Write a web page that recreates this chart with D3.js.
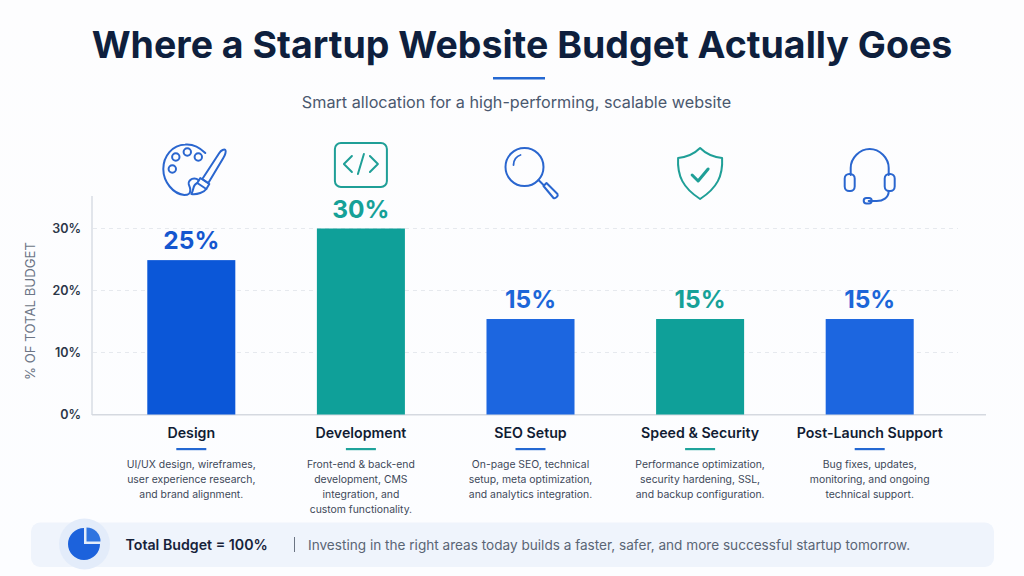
<!DOCTYPE html>
<html><head><meta charset="utf-8">
<script src="https://cdn.jsdelivr.net/npm/d3@7/dist/d3.min.js"></script>
<style>
html,body{margin:0;padding:0;background:#fff;overflow:hidden}
svg{display:block}
text{font-family:Inter,"Noto Sans",sans-serif}
</style></head><body><svg id="c" width="1024" height="576"></svg>
<script>
const categories=["Design","Development","SEO Setup","Speed & Security","Post-Launch Support"];
const values=[24.9,30,15.4,15.4,15.4];
const valueLabels=["25%","30%","15%","15%","15%"];
const barColors=["#0b57d8","#0fa099","#1c66e0","#0fa099","#1c66e0"];
const labelColors=["#1557cf","#16a198","#1c66d8","#16a198","#1c66d8"];
const accentColors=["#2468d2","#1fa39b","#2468d2","#1fa39b","#2468d2"];
const descriptions=[
 ["UI/UX design, wireframes,","user experience research,","and brand alignment."],
 ["Front-end & back-end","development, CMS","integration, and","custom functionality."],
 ["On-page SEO, technical","setup, meta optimization,","and analytics integration."],
 ["Performance optimization,","security hardening, SSL,","and backup configuration."],
 ["Bug fixes, updates,","monitoring, and ongoing","technical support."]];
const yTicks=[0,10,20,30];
const titleText="Where a Startup Website Budget Actually Goes";
const subtitleText="Smart allocation for a high-performing, scalable website";
const axisTitle="% OF TOTAL BUDGET";
const totalText="Total Budget = 100%";
const footerText="Investing in the right areas today builds a faster, safer, and more successful startup tomorrow.";

const svg=d3.select("#c");
const defs=svg.append("defs");
const bg=defs.append("linearGradient").attr("id","bg").attr("x1",0).attr("y1",0).attr("x2",0).attr("y2",1);
bg.append("stop").attr("offset",0).attr("stop-color","#fdfdfe");
bg.append("stop").attr("offset",1).attr("stop-color","#fcfdff");
svg.append("rect").attr("width",1024).attr("height",576).attr("fill","url(#bg)");

const x=d3.scaleBand().domain(categories).range([106.5,954.5]).paddingInner(0.481).paddingOuter(0.2405);
const y=d3.scaleLinear().domain([0,30]).range([414.5,228.5]);

svg.append("text").attr("x",522).attr("y",58).attr("text-anchor","middle")
  .attr("font-size",37.5).attr("font-weight",700).attr("fill","#0e1f3d").text(titleText);
svg.append("rect").attr("x",493).attr("y",77).attr("width",52).attr("height",2.5).attr("fill","#2468d2");
svg.append("text").attr("x",516.5).attr("y",108).attr("text-anchor","middle")
  .attr("font-size",16.2).attr("fill","#4a586e").text(subtitleText);

// grid
svg.append("g").selectAll("line").data(yTicks.filter(d=>d>0)).join("line")
  .attr("x1",93).attr("x2",958).attr("y1",d=>y(d)).attr("y2",d=>y(d))
  .attr("stroke","#e6e9ee").attr("stroke-width",1).attr("stroke-dasharray","4 4");

// axes
const yAxis=d3.axisLeft(y).tickValues(yTicks).tickFormat(d=>d+"%").tickSize(0).tickPadding(11);
const gy=svg.append("g").attr("transform","translate(92,0)").call(yAxis);
gy.select(".domain").remove();
gy.selectAll("text").attr("font-size",12.5).attr("font-weight",600).attr("fill","#2b3648")
  .attr("font-family","Inter,sans-serif").attr("dy","0.32em");
svg.append("line").attr("x1",92).attr("x2",92).attr("y1",196).attr("y2",415).attr("stroke","#d9dde4").attr("stroke-width",1.5);
svg.append("line").attr("x1",92).attr("x2",986).attr("y1",414.8).attr("y2",414.8).attr("stroke","#d5d9e0").attr("stroke-width",1.5);
svg.append("text").attr("transform","translate(35,311) rotate(-90)").attr("text-anchor","middle")
  .attr("font-size",13.2).attr("fill","#6d7686").text(axisTitle);

// bars
svg.append("g").selectAll("rect").data(categories).join("rect")
  .attr("x",d=>x(d)).attr("width",x.bandwidth())
  .attr("y",(d,i)=>y(values[i])).attr("height",(d,i)=>y(0)-y(values[i]))
  .attr("fill",(d,i)=>barColors[i]);
svg.append("g").selectAll("text").data(categories).join("text")
  .attr("x",d=>x(d)+x.bandwidth()/2).attr("y",(d,i)=>y(values[i])-11)
  .attr("text-anchor","middle").attr("font-size",24.5).attr("font-weight",700)
  .attr("fill",(d,i)=>labelColors[i]).text((d,i)=>valueLabels[i]);

// category labels
const cols=svg.append("g").selectAll("g").data(categories).join("g")
  .attr("transform",d=>`translate(${x(d)+x.bandwidth()/2},0)`);
cols.append("text").attr("y",438).attr("text-anchor","middle").attr("font-size",14.2).attr("font-weight",600)
  .attr("fill","#111c33").text(d=>d);
cols.append("rect").attr("x",-15).attr("y",448).attr("width",30).attr("height",2.2)
  .attr("fill",(d,i)=>accentColors[i]);
cols.each(function(d,i){
  d3.select(this).selectAll("text.desc").data(descriptions[i]).join("text").attr("class","desc")
    .attr("y",(s,j)=>468+j*15).attr("text-anchor","middle").attr("font-size",10.4)
    .attr("fill","#3d4859").text(s=>s);
});

// icons
function icon(cat,col){const g=svg.append("g").attr("transform",`translate(${x(cat)+x.bandwidth()/2},170)`)
  .attr("fill","none").attr("stroke",col).attr("stroke-width",2).attr("stroke-linecap","round").attr("stroke-linejoin","round");return g;}
const blue="#2a66cf",teal="#1f9f97";
let g=icon(categories[0],blue);
g.append("path").attr("d","M14,-17 C8,-23 0,-26 -6,-25.5 C-19,-25 -28,-14 -28,-1 C-28,12 -18,24 -7,25 C-3,25 -1,24 -1,20 C-1,15 -5,14 -1,10 C1,8 5,8 7,10");
[[-15.5,-13],[-4,-18],[7,-13],[-19,-1]].forEach(c=>g.append("circle").attr("cx",c[0]).attr("cy",c[1]).attr("r",3.7));
g.append("path").attr("d","M11,9 L28,-17 C30,-20 33,-21 34,-20 C35,-19 34,-15 32,-12 L17,13 Z");
g.append("path").attr("d","M9,8 L18,14 L15,19 L6,13 Z");
g.append("path").attr("d","M6,13 C1,15 3,19 0,24 C6,25 13,22 15,19");
g=icon(categories[1],teal);
g.append("rect").attr("x",-26).attr("y",-27).attr("width",52).attr("height",44).attr("rx",6);
g.append("path").attr("d","M-9,-14 L-17,-6 L-9,2 M9,-14 L17,-6 L9,2 M3,-16 L-3,4");
g=icon(categories[2],blue);
g.append("circle").attr("cx",-6).attr("cy",-3).attr("r",19);
g.append("path").attr("d","M-17,-5 C-17,-10 -14,-14 -10,-15").attr("stroke-width",1.8);
g.append("path").attr("d","M8,10 L13,15");
g.append("path").attr("d","M13,16 L16,13 L27,24 C28,26 25,29 23,28 Z");
g=icon(categories[3],teal);
g.append("path").attr("d","M0,-22 C6,-16 13,-13 22,-12 C23,6 17,18 0,29 C-17,18 -23,6 -22,-12 C-13,-13 -6,-16 0,-22 Z");
g.append("path").attr("d","M-8,5 L-2,11 L8,-1").attr("stroke-width",3);
g=icon(categories[4],blue);
g.append("path").attr("d","M-19,5 L-19,-2 C-19,-12 -10,-21 0,-21 C10,-21 19,-12 19,-2 L19,5");
g.append("rect").attr("x",-25).attr("y",4).attr("width",10).attr("height",17).attr("rx",4.5);
g.append("rect").attr("x",15).attr("y",4).attr("width",10).attr("height",17).attr("rx",4.5);
g.append("path").attr("d","M19,21 C19,28 13,31 7,31 L-1,31");
g.append("rect").attr("x",-6).attr("y",28).attr("width",8).attr("height",5.5).attr("rx",2.7);

// footer
svg.append("rect").attr("x",31).attr("y",522.5).attr("width",963).attr("height",44.5).attr("rx",9).attr("fill","#eff4fc");
svg.append("circle").attr("cx",84.5).attr("cy",544).attr("r",25.5).attr("fill","#e3ecfa");
const pieC=[84,544];
const arc=d3.arc();
const pg=svg.append("g").attr("transform",`translate(${pieC})`);
pg.append("path").attr("d",arc({innerRadius:0,outerRadius:16,startAngle:Math.PI/2,endAngle:2*Math.PI})).attr("fill","#1c62dc");
pg.append("path").attr("transform","translate(2.5,-2.5)").attr("d",arc({innerRadius:0,outerRadius:14,startAngle:0,endAngle:Math.PI/2})).attr("fill","#2f74e0");
svg.append("text").attr("x",125.5).attr("y",549.5).attr("font-size",14.2).attr("font-weight",600).attr("fill","#16223a").text(totalText);
svg.append("rect").attr("x",294).attr("y",537).attr("width",1).attr("height",15).attr("fill","#6b7483");
svg.append("text").attr("x",308).attr("y",550).attr("font-size",13.6).attr("fill","#5a6575").text(footerText);
</script></body></html>
